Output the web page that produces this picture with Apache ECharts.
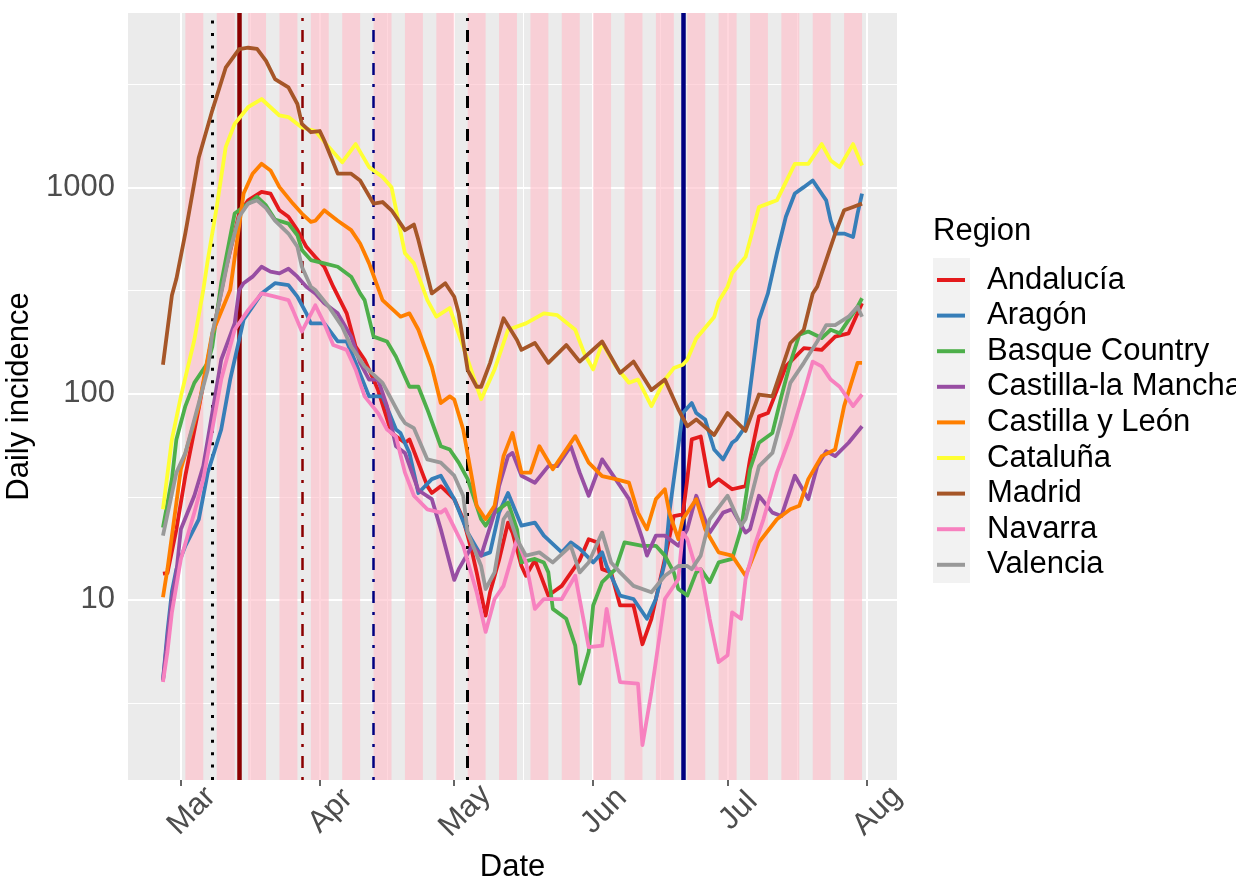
<!DOCTYPE html>
<html>
<head>
<meta charset="utf-8">
<script src="https://cdn.jsdelivr.net/npm/echarts@6/dist/echarts.min.js"></script>
<style>
html,body{margin:0;padding:0;background:#ffffff;}
#chart{width:1236px;height:882px;}
</style>
</head>
<body>
<div id="chart"></div>
<script>
// Day numbers are days since 2020-03-01 (day 0 = 1 Mar 2020)
const monthTicks = [0, 31, 61, 92, 122, 153];
const monthLabels = ['Mar', 'Apr', 'May', 'Jun', 'Jul', 'Aug'];
const monthMinor = [15.5, 46, 76.5, 107, 137.5];
const yTicks = [10, 100, 1000];
const yMinor = [3.1623, 31.623, 316.23, 3162.3];
// pink bands: start day of each band (4 days wide)
const bandStarts = [1, 8, 15, 22, 29, 36, 43, 50, 57, 64, 71, 78, 85, 92, 99, 106, 113, 120, 127, 134, 141, 148];
const bandWidth = 4;
// event lines (day numbers)
const eventDays = [7, 13, 27, 43, 64, 112];

const regions = ['Andalucía', 'Aragón', 'Basque Country', 'Castilla-la Mancha', 'Castilla y León', 'Cataluña', 'Madrid', 'Navarra', 'Valencia'];
const colors = ['#E41A1C', '#377EB8', '#4DAF4A', '#984EA3', '#FF7F00', '#FFFF33', '#A65628', '#F781BF', '#999999'];

const andalucia = [[-4,13.4],[-3,13.5],[-1,22],[1,40],[4,85],[7,190],[10,400],[13,746],[15,865],[18,950],[20,933],[22,774],[24,720],[26,620],[28,515],[30,460],[32,412],[34,330],[37,245],[39,169],[41,146],[43,117],[44,104],[47,64.5],[50,57.8],[51,60],[55,35.6],[56,33],[58,35.6],[61,30.8],[63,24.6],[65,17],[66,13.6],[68,8.4],[69,10.9],[71,15.6],[73,23.7],[74,21.2],[76,14.6],[77,13.1],[79,15.6],[82,10.5],[85,11.7],[89,15.6],[91,19.7],[93,19],[94,14.1],[96,13.6],[98,9.4],[101,9.4],[103,6.1],[105,8.1],[108,15.8],[110,25.5],[112,26],[113,38.5],[114,60],[116,62],[118,35.6],[120,38.5],[123,34.4],[126,35.6],[127,48],[129,77.6],[131,80.5],[133,104],[135,135.5],[139,166],[143,163],[146,189],[149,196],[152,274]];
const aragon = [[-4,4.07],[-3,7],[-2,11],[-1,14.1],[1,18.3],[4,24.6],[6,41.4],[9,67],[11,117],[14,228],[16,264],[18,306],[21,343],[24,336],[26,295],[28,245],[29,219],[32,219],[35,179],[37,179],[39,141],[42,97],[45,97],[48,67],[49,64.5],[51,51.6],[53,33],[56,38.5],[58,40],[61,30.8],[64,21.2],[67,16.4],[69,17],[71,26.5],[73,33],[76,22.9],[79,23.7],[81,20.5],[85,17],[87,19],[89,17.7],[92,15.2],[94,17],[95,14.6],[98,10.5],[101,10.1],[104,8.1],[106,10.1],[108,15.2],[109,26.5],[111,55.6],[112,80.5],[114,90],[115,80.5],[117,74.8],[119,53.6],[121,48],[123,57.8],[124,60],[126,69.5],[127,104],[129,228],[131,306],[133,479],[135,720],[137,933],[139,1002],[141,1080],[144,865],[145,689],[146,597],[148,597],[150,575],[151,746],[152,933]];
const basque = [[-4,22.4],[-2,38.5],[-1,60],[1,87],[3,112.7],[6,141],[7,169],[9,343],[12,746],[15,834],[17,900],[19,817],[21,698],[24,667],[26,586],[27,497],[29,444],[32,428],[35,412],[38,369],[40,306],[41,284],[43,189],[46,179],[48,151],[51,108],[53,108],[55,83.8],[58,55.6],[60,53.6],[62,46.3],[64,38.5],[67,24.6],[68,22.9],[70,26.5],[73,29.7],[75,22],[76,15.2],[79,15.8],[81,15.2],[82,13.6],[83,9.05],[86,8.1],[88,6.0],[89,3.93],[91,5.6],[92,9.4],[94,12.2],[97,14.1],[99,19],[103,18.3],[106,18.3],[108,16.4],[110,13.6],[111,11.3],[113,10.5],[115,13.6],[116,14.1],[118,12.2],[120,15.2],[123,15.8],[125,22],[127,43],[129,57.8],[132,64.5],[134,97],[136,141],[138,193],[140,200],[143,186],[145,204],[147,196],[151,264],[152,290]];
const castillaLaMancha = [[-4,4.07],[-3,6.5],[-2,10.1],[-1,13.6],[0,22],[3,32],[5,44.5],[7,80.5],[9,146],[12,219],[13,318],[14,343],[16,369],[18,412],[20,390],[22,383],[24,403],[26,369],[28,330],[30,306],[32,274],[35,245],[38,189],[40,141],[42,117],[44,117],[46,87],[48,55.6],[50,51.6],[53,34],[56,30.8],[58,22],[61,12.5],[62,14.1],[65,18.3],[67,16.4],[70,26.5],[71,35.6],[73,49.8],[74,51.6],[76,40],[79,37],[82,44.5],[84,44.5],[87,55.6],[89,41.4],[91,32],[94,48],[97,38.5],[100,30.8],[103,19.7],[104,16.4],[106,20.5],[108,20.5],[111,18.3],[113,22],[115,32],[118,21.2],[121,26.5],[123,27.5],[126,21.2],[127,22],[129,32],[132,26.5],[134,25.5],[137,40],[140,30.8],[142,44.5],[144,52.6],[146,49.8],[149,57.8],[152,69.5]];
const castillaYLeon = [[-4,10.3],[-3,14.1],[0,43],[4,87],[7,196],[11,318],[14,933],[16,1165],[18,1300],[20,1208],[22,1002],[25,834],[27,746],[29,680],[30,689],[32,774],[35,689],[38,620],[40,534],[42,428],[45,284],[49,236],[51,245],[53,204],[56,135],[58,90],[60,97],[61,93.6],[63,67],[65,38.5],[66,28.6],[68,24.6],[70,28.6],[72,49.8],[74,64.5],[76,41.4],[78,41.4],[80,55.6],[83,43],[88,62.2],[91,46.3],[94,39.8],[97,38.5],[100,37],[102,26.5],[104,22],[106,30.8],[108,34.4],[109,26.5],[111,19.7],[112,24.6],[115,30.8],[117,22],[120,17],[123,16.4],[126,13.1],[129,19],[133,24.6],[136,27.5],[138,28.6],[140,38.5],[143,49.8],[146,53.6],[148,87],[151,141],[152,141]];
const cataluna = [[-4,27.5],[-2,60],[0,97],[3,182],[5,318],[6,444],[8,803],[10,1567],[12,2030],[15,2445],[18,2680],[20,2445],[22,2230],[24,2190],[27,1950],[30,1875],[33,1567],[36,1323],[39,1620],[42,1253],[45,1122],[47,1002],[50,479],[52,428],[55,284],[57,236],[60,260],[64,146],[67,94],[70,131],[73,204],[77,219],[81,245],[84,240],[88,204],[90,157],[92,131],[94,176],[97,136],[100,113],[102,117],[105,87],[108,117],[110,133],[112,138],[113,146],[115,185],[119,235],[120,280],[122,330],[123,383],[126,460],[129,803],[131,834],[133,865],[137,1300],[140,1300],[143,1620],[145,1350],[147,1253],[150,1620],[152,1277]];
const madrid = [[-4,138],[-2,300],[-1,360],[1,600],[4,1396],[7,2355],[10,3800],[13,4680],[15,4750],[17,4690],[19,4100],[21,3350],[24,3054],[26,2535],[27,2030],[29,1850],[31,1875],[32,1686],[35,1165],[38,1165],[40,1080],[43,834],[45,849],[47,774],[50,620],[52,660],[53,555],[56,306],[59,343],[61,295],[62,245],[64,130],[66,108],[67,108],[69,141],[72,232],[75,182],[76,163],[79,176],[82,141],[86,172],[89,143],[94,179],[98,126],[101,143],[105,104],[108,117],[111,84],[113,69.5],[115,75],[119,63],[122,80.5],[126,66],[129,99],[132,97],[136,176],[139,204],[141,306],[142,330],[144,444],[146,597],[148,774],[150,803],[152,834]];
const navarra = [[-4,4.0],[-3,5.6],[-2,8.7],[0,15.8],[3,26.5],[5,38.5],[7,67],[9,117],[12,204],[15,254],[18,306],[21,295],[24,284],[25,254],[27,200],[30,268],[32,219],[34,172],[37,163],[39,130.6],[41,97],[44,80.5],[46,67],[48,62],[50,41.4],[52,32],[55,27.5],[58,26.5],[59,27.5],[63,18.3],[66,10.9],[68,7.0],[70,10.1],[72,11.7],[75,19.7],[77,15.2],[79,9.05],[81,10.1],[85,10.1],[88,13.1],[91,5.9],[94,6.0],[95,9.05],[98,4.0],[102,3.93],[103,1.98],[105,3.58],[108,10.1],[111,12.6],[112,21.2],[113,19.7],[115,14.1],[116,14.1],[118,8.1],[120,5.0],[122,5.4],[123,8.7],[125,8.1],[126,12.6],[128,18.3],[130,24.6],[133,41.4],[136,62],[139,101],[141,143],[143,135.5],[145,117],[147,108],[150,87],[152,99]];
const valencia = [[-4,20.5],[-1,41.4],[1,51.6],[3,74.8],[6,130.6],[7,196],[9,306],[11,497],[13,720],[15,834],[17,865],[19,793],[21,689],[24,597],[26,515],[27,412],[29,330],[30,318],[33,264],[36,211],[38,169],[41,135.5],[45,112.7],[47,93.6],[49,77.6],[50,72],[52,68],[55,48],[58,46.3],[61,40],[63,32],[64,21.2],[67,14.6],[68,11.3],[70,13.6],[72,24.6],[73,26.5],[75,19.7],[77,16.4],[80,17],[83,15.2],[87,18.3],[89,13.6],[91,15.2],[94,21.2],[96,15.2],[98,13.6],[101,11.7],[105,10.9],[108,13.1],[111,14.6],[113,14.6],[114,14.1],[116,16.4],[118,24.6],[122,32],[125,22.9],[126,24.6],[129,44.5],[132,51.6],[134,74.8],[136,112.7],[139,141],[142,179],[144,215],[146,215],[149,236],[151,264],[152,236]];

const regionData = [andalucia, aragon, basque, castillaLaMancha, castillaYLeon, cataluna, madrid, navarra, valencia];

const FONT = 'Liberation Sans, Arial, sans-serif';

// event line styles (same order as eventDays)
const eventStyles = [
  {color: '#000000', width: 3, type: [3, 9.4]},
  {color: '#8B0000', width: 4.5, type: 'solid'},
  {color: '#8B0000', width: 2.5, type: [3, 9, 12, 9]},
  {color: '#000080', width: 2.5, type: [3, 9, 12, 9]},
  {color: '#000000', width: 3, type: [3, 9, 12, 9]},
  {color: '#000080', width: 4.5, type: 'solid'}
];

const gridLineData = []
  .concat(yTicks.map(v => ({yAxis: v, lineStyle: {color: '#FFFFFF', width: 2, type: 'solid'}})))
  .concat(yMinor.map(v => ({yAxis: v, lineStyle: {color: '#FFFFFF', width: 1, type: 'solid'}})))
  .concat(monthTicks.map(v => ({xAxis: v, lineStyle: {color: '#FFFFFF', width: 2, type: 'solid'}})))
  .concat(monthMinor.map(v => ({xAxis: v, lineStyle: {color: '#FFFFFF', width: 1, type: 'solid'}})));

const bandData = bandStarts.map(s => [{xAxis: s}, {xAxis: s + bandWidth}]);

const eventData = eventDays.map((d, i) => ({xAxis: d, lineStyle: eventStyles[i]}));

const series = [
  {
    name: '_grid', type: 'line', data: [], silent: true, z: 1,
    markLine: {silent: true, symbol: ['none', 'none'], label: {show: false}, animation: false, z: 1,
      emphasis: {disabled: true}, data: gridLineData}
  },
  {
    name: '_bands', type: 'line', data: [], silent: true, z: 1,
    markArea: {silent: true, animation: false, z: 2, label: {show: false},
      itemStyle: {color: 'rgba(255,192,203,0.65)'}, emphasis: {disabled: true}, data: bandData}
  },
  {
    name: '_events', type: 'line', data: [], silent: true, z: 1,
    markLine: {silent: true, symbol: ['none', 'none'], label: {show: false}, animation: false, z: 3,
      emphasis: {disabled: true}, data: eventData}
  }
].concat(regions.map((name, i) => ({
  name: name,
  type: 'line',
  data: regionData[i],
  z: 5,
  showSymbol: false,
  symbol: 'none',
  color: colors[i],
  lineStyle: {color: colors[i], width: 3.8, join: 'round'},
  emphasis: {disabled: true},
  animation: false
})));

const chart = echarts.init(document.getElementById('chart'), null, {renderer: 'canvas'});
chart.setOption({
  animation: false,
  backgroundColor: '#FFFFFF',
  textStyle: {fontFamily: FONT},
  grid: {left: 128, right: 339, top: 13, bottom: 102, show: true, backgroundColor: '#EBEBEB', borderWidth: 0,
    containLabel: false, outerBoundsMode: 'none'},
  title: {
    text: 'Region', left: 933, top: 216, padding: 0,
    textStyle: {fontFamily: FONT, fontSize: 31, fontWeight: 'normal', color: '#000000'}
  },
  legend: {
    data: regions, orient: 'vertical', left: 937, top: 264.5, padding: 0,
    icon: 'rect', itemWidth: 28, itemHeight: 4, itemGap: 4.6,
    selectedMode: false,
    textStyle: {fontFamily: FONT, fontSize: 31, color: '#000000', lineHeight: 30, padding: [0, 0, 0, 17]}
  },
  graphic: [{
    type: 'rect', left: 933, top: 258, z: 0, silent: true,
    shape: {width: 37, height: 325}, style: {fill: '#F2F2F2'}
  }],
  xAxis: {
    type: 'value', min: -11.8, max: 159.8,
    name: 'Date', nameLocation: 'middle', nameGap: 87,
    nameTextStyle: {fontFamily: FONT, fontSize: 31, color: '#000000', align: 'center', verticalAlign: 'middle'},
    axisLine: {show: false},
    axisTick: {show: true, length: 6, lineStyle: {color: '#333333', width: 1.5}, customValues: monthTicks},
    axisLabel: {
      customValues: monthTicks, rotate: 45, margin: 20, align: 'center', verticalAlign: 'top',
      fontFamily: FONT, fontSize: 31, color: '#4D4D4D',
      formatter: v => { const k = monthTicks.indexOf(Math.round(v)); return k >= 0 ? monthLabels[k] : ''; }
    },
    splitLine: {show: false}, minorSplitLine: {show: false}
  },
  yAxis: {
    type: 'log', logBase: 10, min: 1.34, max: 7000,
    name: 'Daily incidence', nameLocation: 'middle', nameGap: 101,
    nameTextStyle: {fontFamily: FONT, fontSize: 31, color: '#000000', align: 'center', verticalAlign: 'middle'},
    axisLine: {show: false},
    axisTick: {show: true, length: 6, lineStyle: {color: '#333333', width: 1.5}, customValues: yTicks},
    axisLabel: {
      customValues: yTicks, margin: 13, fontFamily: FONT, fontSize: 31, color: '#4D4D4D',
      formatter: v => String(Math.round(v))
    },
    splitLine: {show: false}, minorSplitLine: {show: false}
  },
  series: series
});
</script>
</body>
</html>
